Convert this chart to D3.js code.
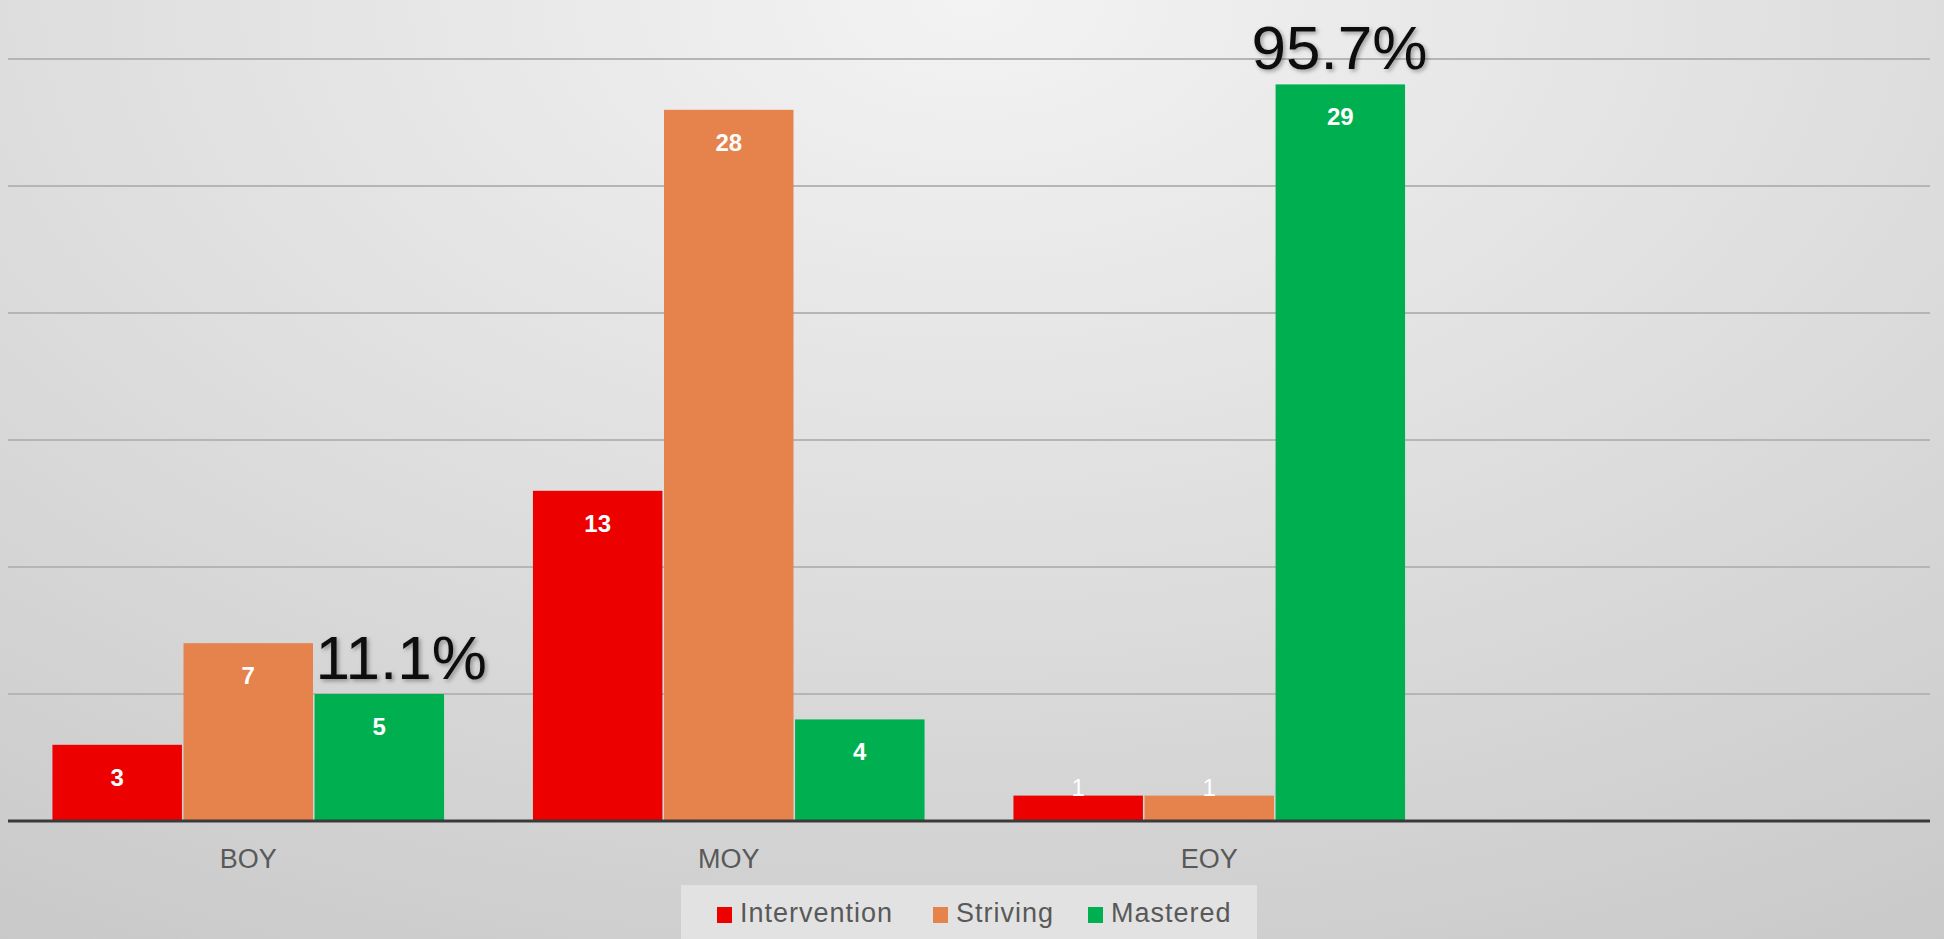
<!DOCTYPE html>
<html>
<head>
<meta charset="utf-8">
<script src="https://cdn.jsdelivr.net/npm/d3@7"></script>
<style>
  html, body { margin: 0; padding: 0; overflow: hidden; }
  svg { display: block; }
</style>
</head>
<body>
<svg width="1944" height="939"></svg>
<script>
// data
var categories = ['BOY', 'MOY', 'EOY', ''];
var seriesNames = ['Intervention', 'Striving', 'Mastered'];
var intervention = [3, 13, 1];
var striving = [7, 28, 1];
var mastered = [5, 4, 29];
var pctLabels = ['11.1%', '', '95.7%'];
var yTicks = [0, 5, 10, 15, 20, 25, 30];

var colors = ['#ec0000', '#e6824c', '#00b050'];
var width = 1944, height = 939;

var svg = d3.select('svg');

// background
var defs = svg.append('defs');
var grad = defs.append('radialGradient')
    .attr('id', 'bg')
    .attr('cx', '50%').attr('cy', '0%')
    .attr('r', '105%')
    .attr('gradientUnits', 'objectBoundingBox')
    .attr('gradientTransform', 'translate(0,0) scale(1,1.25)');
grad.append('stop').attr('offset', '0%').attr('stop-color', '#f3f3f3');
grad.append('stop').attr('offset', '50%').attr('stop-color', '#dcdcdc');
grad.append('stop').attr('offset', '100%').attr('stop-color', '#c4c4c4');

var shadow = defs.append('filter').attr('id', 'shadow')
    .attr('x', '-10%').attr('y', '-10%').attr('width', '130%').attr('height', '130%');
shadow.append('feDropShadow')
    .attr('dx', 2).attr('dy', 2).attr('stdDeviation', 2)
    .attr('flood-color', '#000').attr('flood-opacity', 0.35);

svg.append('rect')
    .attr('width', width).attr('height', height)
    .attr('fill', 'url(#bg)');

var x0 = d3.scaleBand()
    .domain(categories.map((c, i) => i))
    .range([8, 1930])
    .paddingInner(0.185)
    .paddingOuter(0.0925);

var x1 = d3.scaleBand()
    .domain(seriesNames)
    .range([0, x0.bandwidth()])
    .paddingInner(0.012);

var y = d3.scaleLinear()
    .domain([0, 30])
    .range([821, 59]);

// gridlines
svg.append('g')
    .selectAll('.grid')
    .data(yTicks.slice(1))
    .join('line')
    .attr('class', 'grid')
    .attr('x1', 8).attr('x2', 1930)
    .attr('y1', d => y(d)).attr('y2', d => y(d))
    .attr('stroke', '#b5b5b5')
    .attr('stroke-width', 2);

var rows = categories.slice(0, 3).map(function (c, i) {
    return [intervention[i], striving[i], mastered[i]];
});

var groups = svg.append('g')
    .selectAll('.grp')
    .data(rows)
    .join('g')
    .attr('class', 'grp')
    .attr('transform', (d, i) => 'translate(' + x0(i) + ',0)');

groups.selectAll('rect')
    .data(d => d.map((v, j) => ({ v: v, s: seriesNames[j], j: j })))
    .join('rect')
    .attr('x', d => x1(d.s))
    .attr('width', x1.bandwidth())
    .attr('y', d => y(d.v))
    .attr('height', d => y(0) - y(d.v))
    .attr('fill', d => colors[d.j]);

groups.selectAll('.val')
    .data(d => d.map((v, j) => ({ v: v, s: seriesNames[j], j: j })))
    .join('text')
    .attr('class', 'val')
    .attr('x', d => x1(d.s) + x1.bandwidth() / 2)
    .attr('y', d => (y(0) - y(d.v)) > 45 ? y(d.v) + 41 : y(d.v))
    .attr('text-anchor', 'middle')
    .attr('font-family', 'Liberation Sans, Arial, sans-serif')
    .attr('font-size', 24)
    .attr('font-weight', d => (y(0) - y(d.v)) > 45 ? 'bold' : 'normal')
    .attr('fill', '#ffffff')
    .text(d => d.v);

// baseline
svg.append('line')
    .attr('x1', 8).attr('x2', 1930)
    .attr('y1', y(0)).attr('y2', y(0))
    .attr('stroke', '#3a3a3a')
    .attr('stroke-width', 3);

// category labels
svg.append('g')
    .selectAll('.cat')
    .data(categories)
    .join('text')
    .attr('class', 'cat')
    .attr('x', (d, i) => x0(i) + x0.bandwidth() / 2)
    .attr('y', 868)
    .attr('text-anchor', 'middle')
    .attr('font-family', 'Liberation Sans, Arial, sans-serif')
    .attr('font-size', 27)
    .attr('fill', '#595959')
    .text(d => d);

// percentage call-outs over the Mastered bars
var pctDx = [1, 0, -24];
svg.append('g')
    .selectAll('.pct')
    .data(pctLabels)
    .join('text')
    .attr('class', 'pct')
    .attr('x', (d, i) => x0(i) + x1('Mastered') + pctDx[i])
    .attr('y', (d, i) => Math.max(55, y(mastered[i]) - 15))
    .attr('font-family', 'Liberation Sans, Arial, sans-serif')
    .attr('font-size', 62)
    .attr('fill', '#111111')
    .attr('filter', 'url(#shadow)')
    .text(d => d);

// legend
var legend = svg.append('g').attr('transform', 'translate(681,885)');
legend.append('rect')
    .attr('width', 576).attr('height', 60)
    .attr('fill', '#e2e2e2');
var legX = [36, 252, 407];
var items = legend.selectAll('.leg')
    .data(seriesNames)
    .join('g')
    .attr('class', 'leg')
    .attr('transform', (d, i) => 'translate(' + legX[i] + ',0)');
items.append('rect')
    .attr('y', 22).attr('width', 15).attr('height', 16)
    .attr('fill', (d, i) => colors[i]);
items.append('text')
    .attr('x', 23).attr('y', 37)
    .attr('font-family', 'Liberation Sans, Arial, sans-serif')
    .attr('font-size', 27)
    .attr('letter-spacing', 1)
    .attr('fill', '#595959')
    .text(d => d);
</script>
</body>
</html>
